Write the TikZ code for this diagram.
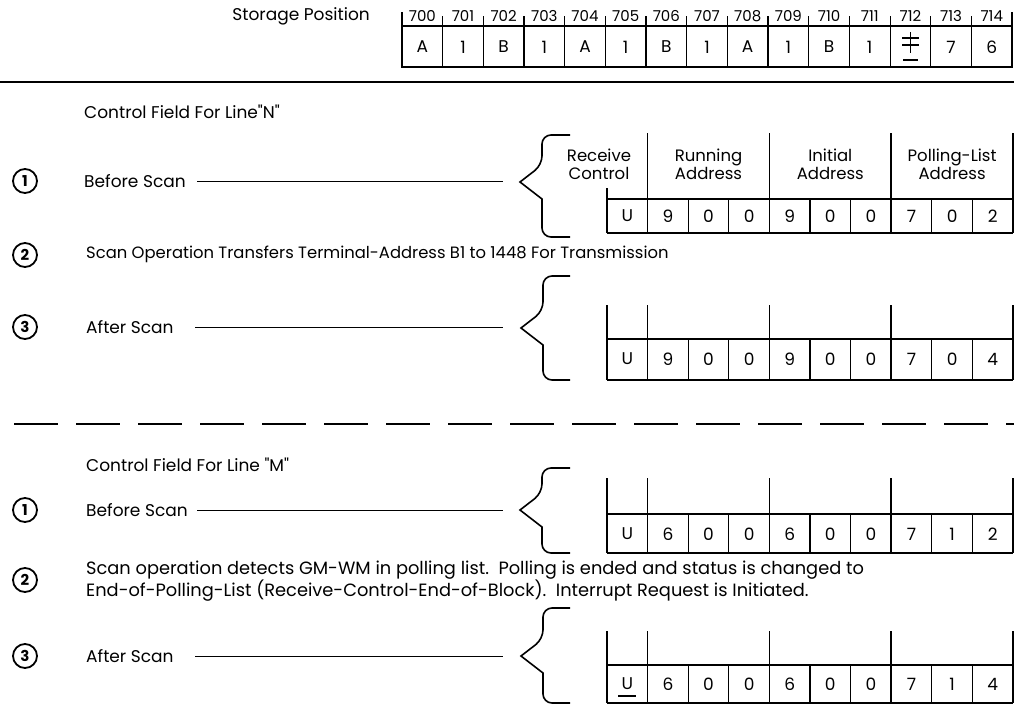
\documentclass[tikz,border=0pt]{standalone}
\usepackage{fontspec}
\setmainfont{Poppins}[Ligatures=TeXOff]
\begin{document}
\begin{tikzpicture}[x=1pt,y=-1pt,
  txt/.style={font=\fontsize{17}{19}\selectfont, inner sep=0pt},
  pn/.style={font=\fontsize{15}{17}\selectfont, inner sep=0pt},
  dig/.style={font=\fontsize{17}{19}\selectfont, inner sep=0pt},
  hd/.style={font=\fontsize{16.5}{18}\selectfont, inner sep=0pt, align=center},
  tl/.style={line width=1.6pt},
  ml/.style={line width=1.1pt},
  ln/.style={line width=0.7pt},
  br/.style={line width=1.6pt},
  numc/.style={circle, draw, line width=1.8pt, minimum size=24pt, inner sep=0pt, font=\fontsize{15}{17}\selectfont\bfseries}]
\useasboundingbox (0,0) rectangle (1014,704);

% ---- storage positions
\node[txt, anchor=east] (sp) at (370,16) {Storage Position};
\foreach \i in {0,...,14} {
  \pgfmathsetmacro\cx{402+40.67*\i+20.33}
  \pgfmathtruncatemacro\pnum{700+\i}
  \node[pn] (pos\i) at (\cx,16) {\pnum};
}
\draw[tl] (402,26) rectangle (1012,67);
\draw[tl] (402,12) -- (402,26);
\draw[tl] (1012,12) -- (1012,26);
\foreach \i in {1,...,14} {
  \draw[ml] ({402+40.67*\i},16) -- ({402+40.67*\i},67);
}
\foreach \c [count=\i from 0] in {A,1,B,1,A,1,B,1,A,1,B,1,,7,6} {
  \node[dig] (sc\i) at ({402+40.67*\i+20.33},47) {\c};
}
% group mark / word mark symbol in 712
\draw[ml] (910.5,32) -- (910.5,53);
\draw[ml] (902,38) -- (919,38);
\draw[ml] (902,45) -- (919,45);
\draw[ml] (903,60) -- (918,60);

% ---- separators
\draw[tl] (0,82) -- (1014,82);
\draw[tl, dash pattern=on 44pt off 18pt] (14,424) -- (1014,424);

% ================= Line N
\node[txt, anchor=west] (cfn) at (84,112) {Control Field For Line"N"};

% row 1
\node[numc] (n1) at (25,181) {1};
\node[txt, anchor=west] (bs1) at (84,181) {Before Scan};
\coordinate (l1a) at (197,181);
\coordinate (l1b) at (503,181);
\draw[ln] (l1a) -- (l1b);
\draw[br] (570,135) [rounded corners=9pt] -- (542,135) -- (542,165) [sharp corners] -- (520,182) -- (542,199) [rounded corners=9pt] -- (542,237) -- (570,237);
% table 1
\draw[tl] (647.6,133) -- (647.6,233);
\draw[tl] (769.4,133) -- (769.4,233);
\draw[tl] (891.2,133) -- (891.2,233);
\draw[tl] (1013,133) -- (1013,233);
\draw[tl] (607,188) -- (607,233);
\draw[tl] (607,199) -- (1013,199);
\draw[tl] (607,233) -- (1013,233);
\foreach \i in {2,3,5,6,8,9} { \draw[ml] ({607+40.6*\i},199) -- ({607+40.6*\i},233); }
\node[hd] (h1) at (599,164) {Receive\\Control};
\node[hd] (h2) at (708.5,164) {Running\\Address};
\node[hd] (h3) at (830.3,164) {Initial\\Address};
\node[hd] (h4) at (952.1,164) {Polling-List\\Address};
\foreach \d [count=\i from 0] in {U,9,0,0,9,0,0,7,0,2} {
  \node[dig] (ta\i) at ({607+40.6*\i+20.3},216) {\d};
}

% row 2
\node[numc] (n2) at (25,255) {2};
\node[txt, anchor=west, font=\fontsize{16.4}{19}\selectfont] (t2) at (86,254) {Scan Operation Transfers Terminal-Address B1 to 1448 For Transmission};

% row 3
\node[numc] (n3) at (25,327) {3};
\node[txt, anchor=west] (as1) at (86,327) {After Scan};
\coordinate (l2a) at (195,327);
\coordinate (l2b) at (503,327);
\draw[ln] (l2a) -- (l2b);
\draw[br] (570,276) [rounded corners=9pt] -- (543,276) -- (543,311) [sharp corners] -- (521,328) -- (543,345) [rounded corners=9pt] -- (543,380) -- (570,380);
\foreach \x in {607,647.6,769.4,891.2,1013} { \draw[tl] (\x,305) -- (\x,380); }
\draw[tl] (607,339) -- (1013,339);
\draw[tl] (607,380) -- (1013,380);
\foreach \i in {2,3,5,6,8,9} { \draw[ml] ({607+40.6*\i},339) -- ({607+40.6*\i},380); }
\foreach \d [count=\i from 0] in {U,9,0,0,9,0,0,7,0,4} {
  \node[dig] (tb\i) at ({607+40.6*\i+20.3},359) {\d};
}

% ================= Line M
\node[txt, anchor=west] (cfm) at (86,465) {Control Field For Line "M"};

% row 1
\node[numc] (m1) at (25,510) {1};
\node[txt, anchor=west] (bs2) at (86,510) {Before Scan};
\coordinate (l3a) at (197,510);
\coordinate (l3b) at (503,510);
\draw[ln] (l3a) -- (l3b);
\draw[br] (570,468) [rounded corners=9pt] -- (542,468) -- (542,493) [sharp corners] -- (520,510) -- (542,527) [rounded corners=9pt] -- (542,553) -- (570,553);
\foreach \x in {607,647.6,769.4,891.2,1013} { \draw[tl] (\x,478) -- (\x,553); }
\draw[tl] (607,514) -- (1013,514);
\draw[tl] (607,553) -- (1013,553);
\foreach \i in {2,3,5,6,8,9} { \draw[ml] ({607+40.6*\i},514) -- ({607+40.6*\i},553); }
\foreach \d [count=\i from 0] in {U,6,0,0,6,0,0,7,1,2} {
  \node[dig] (tc\i) at ({607+40.6*\i+20.3},534) {\d};
}

% row 2
\node[numc] (m2) at (25,580) {2};
\node[txt, anchor=west, font=\fontsize{17.8}{20}\selectfont] (t4a) at (86,570) {Scan operation detects GM-WM in polling list.\ \ Polling is ended and status is changed to};
\node[txt, anchor=west, font=\fontsize{17.8}{20}\selectfont] (t4b) at (86,591) {End-of-Polling-List (Receive-Control-End-of-Block).\ \ Interrupt Request is Initiated.};

% row 3
\node[numc] (m3) at (25,656) {3};
\node[txt, anchor=west] (as2) at (86,656) {After Scan};
\coordinate (l4a) at (195,656);
\coordinate (l4b) at (503,656);
\draw[ln] (l4a) -- (l4b);
\draw[br] (570,608) [rounded corners=9pt] -- (543,608) -- (543,639) [sharp corners] -- (521,656) -- (543,673) [rounded corners=9pt] -- (543,703) -- (570,703);
\foreach \x in {607,647.6,769.4,891.2,1013} { \draw[tl] (\x,631) -- (\x,703); }
\draw[tl] (607,665) -- (1013,665);
\draw[tl] (607,703) -- (1013,703);
\foreach \i in {2,3,5,6,8,9} { \draw[ml] ({607+40.6*\i},665) -- ({607+40.6*\i},703); }
\foreach \d [count=\i from 0] in {U,6,0,0,6,0,0,7,1,4} {
  \node[dig] (td\i) at ({607+40.6*\i+20.3},684) {\d};
}
\draw[ml] (618,696) -- (636,696);
\end{tikzpicture}
\end{document}
